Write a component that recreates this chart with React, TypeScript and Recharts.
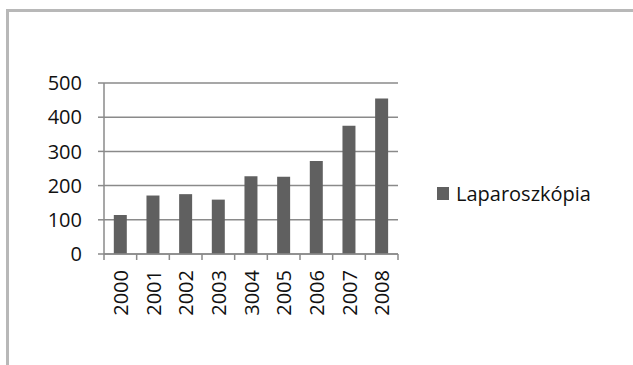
import React from "react";
import { BarChart, Bar, XAxis, YAxis, CartesianGrid, Legend } from "recharts";

const years = ["2000", "2001", "2002", "2003", "3004", "2005", "2006", "2007", "2008"];
const values = [114, 171, 175, 159, 227, 226, 272, 375, 455];
const yTicks = [0, 100, 200, 300, 400, 500];
const seriesName = "Laparoszkópia";

const data = years.map((y, i) => ({ year: y, value: values[i] }));

const FONT = "'Open Sans', sans-serif";
const TEXT = "#111111";
const GRID = "#8a8a8a";
const BAR = "#606060";

const XTick = (props: any) => {
  const { x, y, payload, index } = props;
  const off = payload.offset || 0;
  const last = index === years.length - 1;
  return (
    <g>
      <line x1={x - off} x2={x - off} y1={y - 8} y2={y - 2} stroke={GRID} strokeWidth={1.5} />
      {last && <line x1={x + off} x2={x + off} y1={y - 8} y2={y - 2} stroke={GRID} strokeWidth={1.5} />}
      <text
        x={0}
        y={0}
        transform={`translate(${x},${y + 8}) rotate(-90)`}
        textAnchor="end"
        dominantBaseline="central"
        fontFamily={FONT}
        fontSize={20}
        fontWeight={500}
        fill={TEXT}
      >
        {payload.value}
      </text>
    </g>
  );
};

const LegendContent = (props: any) => {
  const { payload } = props;
  return (
    <div style={{ display: "flex", alignItems: "center", fontFamily: FONT, fontSize: 20, fontWeight: 500, color: TEXT }}>
      {(payload || []).map((p: any) => (
        <div key={p.value} style={{ display: "flex", alignItems: "center" }}>
          <span style={{ display: "inline-block", width: 12, height: 13, background: p.color, marginRight: 7 }} />
          <span>{p.value}</span>
        </div>
      ))}
    </div>
  );
};

export default function App() {
  return (
    <div style={{ position: "fixed", left: 0, top: 0, width: 633, height: 365, background: "#fff" }}>
      <div style={{ position: "absolute", left: 7, top: 9, width: 626, height: 3, background: "#b8b8b8" }} />
      <div style={{ position: "absolute", left: 6, top: 9, width: 3, height: 356, background: "#b8b8b8" }} />
      <div style={{ position: "absolute", left: 0, top: 0 }}>
        <BarChart
          width={633}
          height={365}
          data={data}
          margin={{ top: 83, right: 235, bottom: 0, left: 0 }}
          barCategoryGap="30%"
        >
          <CartesianGrid vertical={false} stroke={GRID} strokeWidth={1.5} />
          <XAxis
            dataKey="year"
            height={111}
            axisLine={{ stroke: GRID, strokeWidth: 1.5 }}
            tickLine={false}
            tick={<XTick />}
            interval={0}
          />
          <YAxis
            width={104}
            domain={[0, 500]}
            ticks={yTicks}
            axisLine={{ stroke: GRID, strokeWidth: 1.5 }}
            tickLine={{ stroke: GRID, strokeWidth: 1.5 }}
            tickSize={6}
            tickMargin={16}
            tick={{ fontFamily: FONT, fontSize: 20, fontWeight: 500, fill: TEXT }}
          />
          <Legend
            layout="vertical"
            align="center"
            verticalAlign="middle"
            content={<LegendContent />}
            wrapperStyle={{ left: 437, top: 180, width: 194 }}
          />
          <Bar dataKey="value" name={seriesName} fill={BAR} isAnimationActive={false} />
        </BarChart>
      </div>
    </div>
  );
}
